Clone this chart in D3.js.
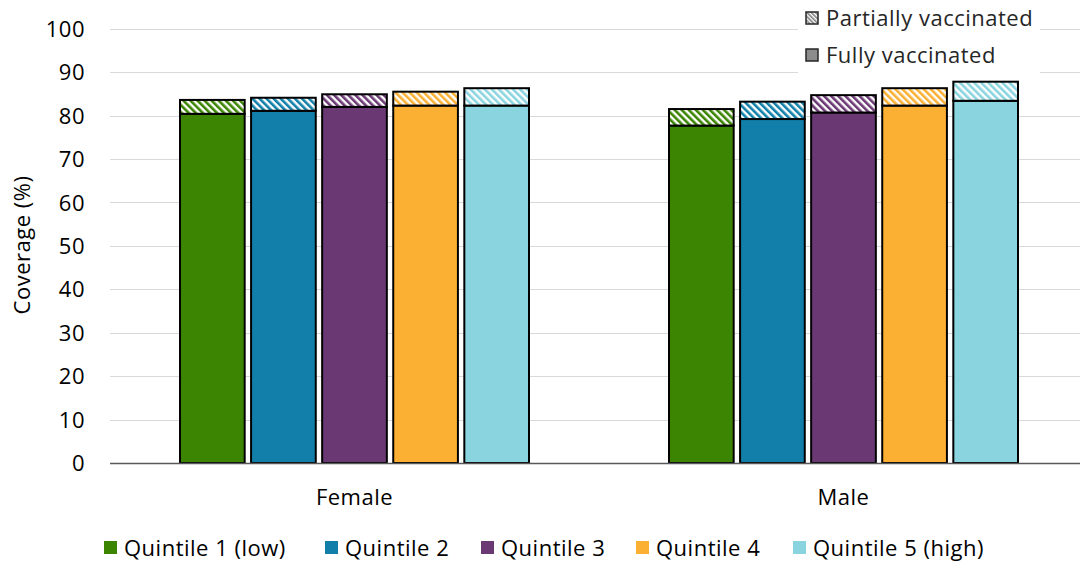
<!DOCTYPE html>
<html>
<head>
<meta charset="utf-8">
<script src="https://cdn.jsdelivr.net/npm/d3@7"></script>
<style>
  html, body { margin: 0; padding: 0; background: #fff; }
  svg { display: block; font-family: "Open Sans", Lato, sans-serif; }
  text { letter-spacing: 0.5px; }
</style>
</head>
<body>
<svg id="chart" width="1085" height="565"></svg>
<script>
// Vaccination coverage by sex and income quintile
const sexes = ["Female", "Male"];
const quintiles = ["Quintile 1 (low)", "Quintile 2", "Quintile 3", "Quintile 4", "Quintile 5 (high)"];
const quintileColors = ["#3c8503", "#117fa9", "#6a3973", "#fbb033", "#8ad4df"];
// Fully vaccinated share (%) per quintile, Female then Male
const fullyFemale = [80.4, 81.1, 82.0, 82.3, 82.3];
const fullyMale = [77.7, 79.2, 80.7, 82.3, 83.4];
// Additional partially vaccinated share (%) stacked on top
const partialFemale = [3.2, 3.0, 2.9, 3.2, 4.0];
const partialMale = [3.8, 4.0, 4.0, 4.0, 4.4];
const yTicks = [0, 10, 20, 30, 40, 50, 60, 70, 80, 90, 100];
const statusLabels = ["Partially vaccinated", "Fully vaccinated"];

const svg = d3.select("#chart");
const plot = { left: 110, right: 1080, top: 28.7, bottom: 463 };
const fontSize = 22;

const x0 = d3.scaleBand().domain(sexes).range([plot.left, 1088]);
const y = d3.scaleLinear().domain([0, 100]).range([plot.bottom, plot.top]);
const x1 = d3.scaleBand().domain(quintiles).range([70, 419]).paddingInner(0.09).paddingOuter(0);

// Hatch patterns for the partial segments
const defs = svg.append("defs");
quintileColors.forEach((c, i) => {
  const p = defs.append("pattern")
    .attr("id", "hatch" + i)
    .attr("patternUnits", "userSpaceOnUse")
    .attr("width", 5).attr("height", 5)
    .attr("patternTransform", "rotate(-45)");
  p.append("rect").attr("width", 5).attr("height", 5).attr("fill", "#fff");
  p.append("rect").attr("width", 2.6).attr("height", 5).attr("fill", c);
});
const gp = defs.append("pattern")
  .attr("id", "hatchGray")
  .attr("patternUnits", "userSpaceOnUse")
  .attr("width", 3).attr("height", 3)
  .attr("patternTransform", "rotate(-45)");
gp.append("rect").attr("width", 3).attr("height", 3).attr("fill", "#fff");
gp.append("rect").attr("width", 1.6).attr("height", 3).attr("fill", "#7f7f7f");

// Gridlines
const grid = svg.append("g");
grid.selectAll("line").data(yTicks.filter(d => d > 0)).join("line")
  .attr("x1", plot.left).attr("x2", plot.right)
  .attr("y1", d => Math.round(y(d)) + 0.5).attr("y2", d => Math.round(y(d)) + 0.5)
  .attr("stroke", "#d9d9d9").attr("stroke-width", 1);

// Y axis labels
const yAxis = svg.append("g").attr("transform", `translate(${plot.left},0)`)
  .call(d3.axisLeft(y).tickValues(yTicks).tickSize(0).tickPadding(25));
yAxis.select(".domain").remove();
yAxis.selectAll("text").attr("font-size", fontSize).attr("fill", "#000").attr("dy", "0.35em")
  .attr("font-family", "'Open Sans', sans-serif");

svg.append("text")
  .attr("transform", `translate(22,245) rotate(-90)`)
  .attr("text-anchor", "middle")
  .attr("dy", "0.35em")
  .attr("font-size", fontSize).attr("fill", "#000")
  .text("Coverage (%)");

// Bars
const rows = [];
sexes.forEach((s, si) => {
  const full = si === 0 ? fullyFemale : fullyMale;
  const part = si === 0 ? partialFemale : partialMale;
  quintiles.forEach((q, qi) => rows.push({ sex: s, q, qi, full: full[qi], part: part[qi] }));
});

const bars = svg.append("g");
const groups = bars.selectAll("g").data(rows).join("g")
  .attr("transform", d => `translate(${x0(d.sex) + x1(d.q)},0)`);
groups.append("rect")
  .attr("x", 0).attr("width", x1.bandwidth())
  .attr("y", d => y(d.full)).attr("height", d => y(0) - y(d.full))
  .attr("fill", d => quintileColors[d.qi])
  .attr("stroke", "#000").attr("stroke-width", 2);
groups.append("rect")
  .attr("x", 0).attr("width", x1.bandwidth())
  .attr("y", d => y(d.full + d.part)).attr("height", d => y(d.full) - y(d.full + d.part))
  .attr("fill", d => `url(#hatch${d.qi})`)
  .attr("stroke", "#000").attr("stroke-width", 2);

// Baseline
svg.append("line")
  .attr("x1", plot.left).attr("x2", plot.right)
  .attr("y1", y(0) + 0.5).attr("y2", y(0) + 0.5)
  .attr("stroke", "#595959").attr("stroke-width", 1.5);

// Category labels
svg.append("g").selectAll("text").data(sexes).join("text")
  .attr("x", d => x0(d) + x1.range()[0] + (x1.range()[1] - x1.range()[0]) / 2)
  .attr("y", 497)
  .attr("dy", "0.35em")
  .attr("text-anchor", "middle")
  .attr("font-size", fontSize).attr("fill", "#000")
  .text(d => d);

// Status legend (top right)
const leg = svg.append("g");
leg.append("rect").attr("x", 798).attr("y", 0).attr("width", 242).attr("height", 80).attr("fill", "#fff");
statusLabels.forEach((t, i) => {
  const yy = 18 + i * 37;
  leg.append("rect").attr("x", 806).attr("y", yy - 6).attr("width", 12).attr("height", 12)
    .attr("fill", i === 0 ? "url(#hatchGray)" : "#8c8c8c")
    .attr("stroke", "#262626").attr("stroke-width", 1.5);
  leg.append("text").attr("x", 826).attr("y", yy).attr("dy", "0.35em")
    .attr("font-size", fontSize).attr("fill", "#262626").attr("letter-spacing", 0.2).text(t);
});

// Quintile legend (bottom)
const qLegX = [104, 325, 481, 636, 793];
const ql = svg.append("g");
quintiles.forEach((q, i) => {
  ql.append("rect").attr("x", qLegX[i]).attr("y", 541).attr("width", 13).attr("height", 13)
    .attr("fill", quintileColors[i]);
  ql.append("text").attr("x", qLegX[i] + 20).attr("y", 548).attr("dy", "0.35em")
    .attr("font-size", fontSize).attr("fill", "#000").attr("letter-spacing", 0.7).text(q);
});
</script>
</body>
</html>
